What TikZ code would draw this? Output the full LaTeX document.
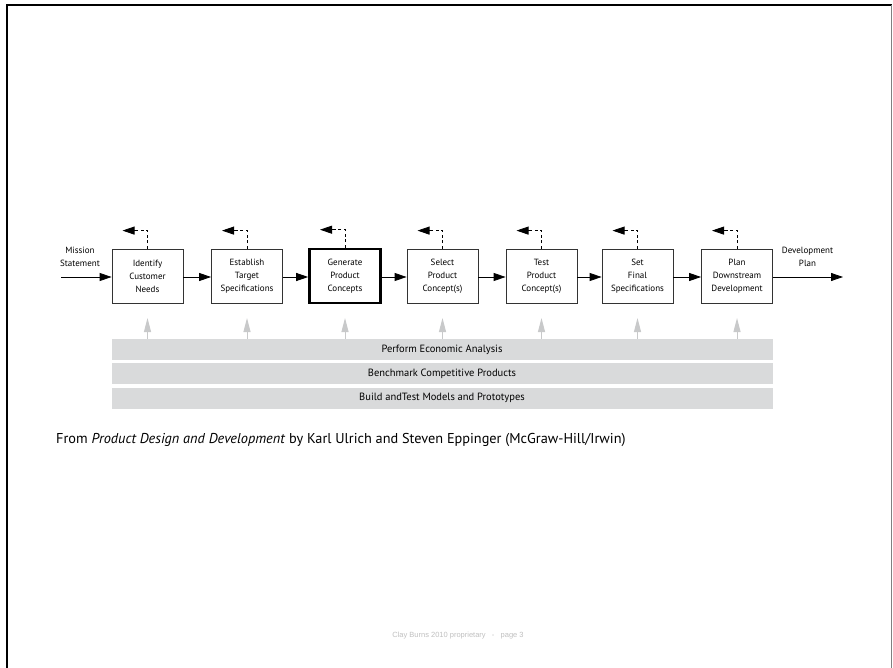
\documentclass[tikz,border=0pt]{standalone}
\usepackage{fontspec}
\setmainfont{PT Sans}
\newfontfamily\footfont{Liberation Sans}
\usetikzlibrary{arrows.meta,calc}
\definecolor{barfill}{HTML}{D9DADB}
\definecolor{uparrow}{HTML}{C8C9CA}
\definecolor{boxline}{HTML}{333333}
\begin{document}
\begin{tikzpicture}[x=1pt,y=-1pt,
  stepbox/.style={draw=boxline,line width=0.8pt,minimum width=71pt,minimum height=54pt,inner sep=0pt,align=center,font=\fontsize{9}{13}\selectfont},
  keybox/.style={stepbox,draw=black,line width=2.6pt},
  flow/.style={line width=0.8pt,-{Triangle[length=12pt,width=8pt]}},
  backline/.style={line width=0.8pt,dash pattern=on 3pt off 2.5pt},
  backtip/.style={line width=0.8pt,-{Triangle[length=12pt,width=8pt]}},
  uparr/.style={draw=uparrow,line width=1pt,-{Triangle[length=14pt,width=7pt]},color=uparrow},
  bar/.style={fill=barfill,draw=none,minimum width=661pt,minimum height=21pt,inner sep=0pt,font=\fontsize{10.5}{12}\selectfont},
  lab/.style={align=center,inner sep=0pt,font=\fontsize{9}{13}\selectfont}]
\useasboundingbox (0,0) rectangle (893,668);
% frame
\draw[line width=2pt] (7,668) -- (7,5) -- (892,5);
\draw[gray,line width=0.8pt] (891.6,5) -- (891.6,668);
% boxes
\node[stepbox] (b1) at (147.5,276) {Identify\\Customer\\Needs};
\node[stepbox] (b2) at (247,276) {Establish\\Target\\Specifications};
\node[keybox] (b3) at (345,276) {Generate\\Product\\Concepts};
\node[stepbox] (b4) at (442.5,276) {Select\\Product\\Concept(s)};
\node[stepbox] (b5) at (541.5,276) {Test\\Product\\Concept(s)};
\node[stepbox] (b6) at (637.5,276) {Set\\Final\\Specifications};
\node[stepbox] (b7) at (737,276) {Plan\\Downstream\\Development};
% input / output
\node[lab] (ms) at (80,257) {Mission\\Statement};
\coordinate (in) at (61,277);
\draw[flow] (in) -- (in -| b1.west);
\node[lab] (dp) at (807.5,257) {Development\\Plan};
\coordinate (out) at (843,277);
\draw[flow] (b7.east |- out) -- (out);
% flow arrows
\foreach \a/\b in {b1/b2,b2/b3,b3/b4,b4/b5,b5/b6,b6/b7}
  \draw[flow] (\a.east |- out) -- (\b.west |- out);
% feedback arrows
\foreach \n in {b1,b2,b3,b4,b5,b6,b7}{
  \coordinate (k\n) at ($(\n.north)+(0,-18)$);
  \coordinate (m\n) at ($(k\n)+(-11,0)$);
  \coordinate (t\n) at ($(k\n)+(-25,0)$);
  \draw[backline] (\n.north) -- (k\n) -- (m\n);
  \draw[backtip] (m\n) -- (t\n);
}
% bars
\node[bar] (e1) at (442,349.5) {Perform Economic Analysis};
\node[bar] (e2) at (442,373.5) {Benchmark Competitive Products};
\node[bar] (e3) at (442,398) {Build andTest Models and Prototypes};
\foreach \n in {b1,b2,b3,b4,b5,b6,b7}{
  \coordinate (u\n) at (\n.south |- 0,318);
  \draw[uparr] (\n.south |- e1.north) -- (u\n);
}
% caption
\node[anchor=west,inner sep=0pt,font=\fontsize{14.3}{16}\selectfont] (cap) at (56,440) {From \textit{Product Design and Development} by Karl Ulrich and Steven Eppinger (McGraw-Hill/Irwin)};
\node[inner sep=0pt,text=black!25,font=\footfont\fontsize{7.5}{9}\selectfont] (foot) at (458,636) {Clay Burns 2010 proprietary \ \ - \ \ page 3};
\end{tikzpicture}
\end{document}
